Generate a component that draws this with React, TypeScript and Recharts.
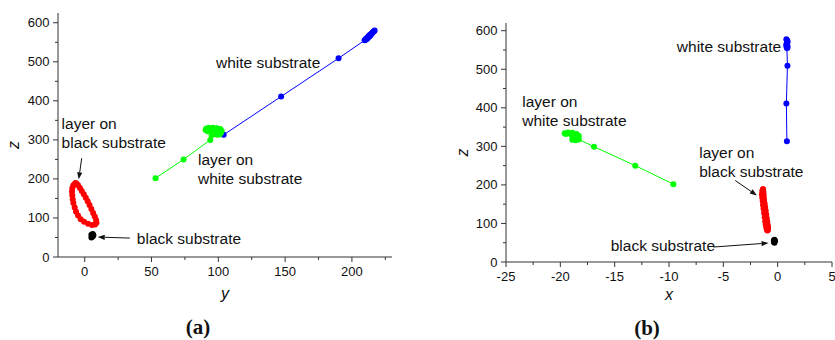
import { Label, ReferenceDot, ReferenceLine, Scatter, ScatterChart, XAxis, YAxis } from "recharts";

// ---- panel (a): y vs z ----
const whiteSubYZ = [
  [104, 313], [147, 411], [190, 509], [209.5, 555], [210.5, 559], [211.5, 562],
  [212.5, 566], [213.5, 569], [214.5, 572], [215.5, 575], [216.5, 578], [217, 580],
  [216, 577], [215, 573], [214, 568], [213, 565], [212, 561], [211, 558], [210, 556]
];
const layerWhiteYZ = [
  [53, 202], [74, 250], [94, 300], [95, 312], [97, 315], [99, 313], [101, 314],
  [102, 318], [102.5, 323], [101.5, 328], [99, 330], [96, 331], [93, 331], [91, 329],
  [90.5, 325], [92, 322], [95, 323], [98, 322], [100, 320], [101, 317]
];
const layerBlackYZ = [
  [-7, 189], [-8.5, 184], [-9.3, 176], [-9.5, 167], [-9.3, 158], [-9, 148], [-8.5, 138],
  [-7.5, 127], [-6.5, 116], [-5, 106], [-3, 97], [-0.5, 90], [2.5, 85], [5.5, 82],
  [7.8, 83], [8.8, 88], [8.5, 95], [7.5, 104], [6.3, 113], [5, 123], [3.6, 133],
  [2.2, 143], [0.8, 152], [-0.7, 161], [-2.2, 169], [-3.6, 177], [-5, 184], [-6.2, 188], [-7, 189]
];
const blackSubYZ = [[5, 50], [5.5, 55], [6, 59], [6.5, 56], [5.5, 52], [6, 53], [5, 57]];

// ---- panel (b): x vs z ----
const whiteSubXZ = [
  [0.85, 313], [0.8, 411], [0.9, 509], [0.85, 555], [0.9, 560], [0.8, 565], [0.9, 570],
  [0.85, 575], [0.8, 578], [0.9, 573], [0.85, 567], [0.8, 560], [0.9, 556]
];
const layerWhiteXZ = [
  [-9.6, 202], [-13.1, 250], [-16.9, 299], [-18.3, 318], [-18.6, 316], [-18.9, 317],
  [-18.4, 322], [-18.3, 327], [-18.5, 332], [-18.9, 335], [-19.3, 336], [-19.6, 334],
  [-19.5, 332], [-19.1, 333], [-18.8, 330], [-18.9, 325], [-18.6, 321]
];
const layerBlackXZ = [
  [-1.35, 189], [-1.42, 184], [-1.45, 176], [-1.42, 167], [-1.38, 158], [-1.35, 148],
  [-1.3, 138], [-1.25, 127], [-1.2, 116], [-1.15, 106], [-1.1, 97], [-1.05, 90],
  [-1.0, 85], [-0.95, 82], [-0.9, 83], [-0.88, 88], [-0.9, 95], [-0.95, 104], [-1.0, 113],
  [-1.05, 123], [-1.1, 133], [-1.15, 143], [-1.2, 152], [-1.25, 161], [-1.28, 169],
  [-1.3, 177], [-1.32, 184], [-1.35, 189]
];
const blackSubXZ = [[-0.35, 52], [-0.3, 58], [-0.25, 55], [-0.3, 50], [-0.35, 56], [-0.28, 53]];

// ticks
const leftXTicks = [0, 25, 50, 75, 100, 125, 150, 175, 200, 225];
const rightXTicks = [-25, -22.5, -20, -17.5, -15, -12.5, -10, -7.5, -5, -2.5, 0, 2.5, 5];
const zTicks = [0, 50, 100, 150, 200, 250, 300, 350, 400, 450, 500, 550, 600];

const FONT = "'Liberation Sans', Arial, sans-serif";
const INK = "#111";

const toPts = (arr) => arr.map(([x, z]) => ({ x, z }));

const dot = (color) => (p) => <circle cx={p.cx} cy={p.cy} r={3} fill={color} />;

const makeXTick = (step) => ({ x, y, payload }) => {
  const major = Math.abs(payload.value / step - Math.round(payload.value / step)) < 1e-6;
  return (
    <g>
      <line x1={x} y1={y} x2={x} y2={y + (major ? 5 : 3)} stroke="#333" />
      {major && (
        <text x={x} y={y + 14.5} textAnchor="middle" dominantBaseline="central"
          fontFamily={FONT} fontSize={13} fill={INK}>
          {payload.value}
        </text>
      )}
    </g>
  );
};

const YTick = ({ x, y, payload }) => {
  const major = payload.value % 100 === 0;
  return (
    <g>
      <line x1={x} y1={y} x2={x - (major ? 5 : 3)} y2={y} stroke="#333" />
      {major && (
        <text x={x - 8.5} y={y} textAnchor="end" dominantBaseline="central"
          fontFamily={FONT} fontSize={13} fill={INK}>
          {payload.value}
        </text>
      )}
    </g>
  );
};

const xTitle = (title, panel, titleDy, panelDx, panelDy) => (props) => {
  const vb = props.viewBox || {};
  const cx = vb.x + vb.width / 2;
  return (
    <g>
      <text x={cx} y={vb.y + titleDy} textAnchor="middle" fontFamily={FONT}
        fontStyle="italic" fontSize={16} fill={INK}>{title}</text>
      <text x={cx + panelDx} y={vb.y + panelDy} textAnchor="middle"
        fontFamily="'Liberation Serif', 'DejaVu Serif', serif" fontWeight="bold"
        fontSize={21} fill={INK}>{panel}</text>
    </g>
  );
};

const zTitle = (dx) => (props) => {
  const vb = props.viewBox || {};
  const tx = vb.x + dx;
  const ty = vb.y + vb.height / 2 + 10;
  return (
    <text x={tx} y={ty} transform={`rotate(-90 ${tx} ${ty})`} textAnchor="middle"
      dominantBaseline="central" fontFamily={FONT} fontStyle="italic" fontSize={16} fill={INK}>
      z
    </text>
  );
};

const note = (lines) => (p) => (
  <text x={p.cx} y={p.cy} fontFamily={FONT} fontSize={15.5} fill={INK}>
    {lines.map((l, i) => (
      <tspan key={i} x={p.cx} dy={i === 0 ? 5 : 19}>{l}</tspan>
    ))}
  </text>
);

const Arrow = (p) => {
  const { x1, y1, x2, y2 } = p;
  const a = Math.atan2(y2 - y1, x2 - x1);
  const L = 7, W = 2.6;
  const bx = x2 - L * Math.cos(a), by = y2 - L * Math.sin(a);
  const px = -Math.sin(a) * W, py = Math.cos(a) * W;
  return (
    <g>
      <line x1={x1} y1={y1} x2={bx} y2={by} stroke={INK} strokeWidth={1} />
      <polygon points={`${x2},${y2} ${bx + px},${by + py} ${bx - px},${by - py}`} fill={INK} />
    </g>
  );
};

const leftNotes = [
  { x: 98.3, z: 498, lines: ["white substrate"] },
  { x: -17.3, z: 340, lines: ["layer on", "black substrate"] },
  { x: 84.8, z: 248, lines: ["layer on", "white substrate"] },
  { x: 39, z: 46, lines: ["black substrate"] }
];
const leftArrows = [
  [[33.75, 48.5], [9.75, 51]],
  [[-2.25, 253], [-4.5, 199]]
];
const rightNotes = [
  { x: -9.28, z: 559, lines: ["white substrate"] },
  { x: -23.5, z: 416, lines: ["layer on", "white substrate"] },
  { x: -7.22, z: 284, lines: ["layer on", "black substrate"] },
  { x: -15.36, z: 41, lines: ["black substrate"] }
];
const rightArrows = [
  [[-5.91, 38.8], [-0.84, 49.2]],
  [[-3.91, 211.5], [-1.91, 172.7]]
];

const Panel = ({ width, margin, yWidth, xHeight, xDomain, zDomain, xTicks, xStep,
  series, notes, arrows, title, panel, titleDy, panelDx, panelDy, zDx }) => (
  <ScatterChart width={width} height={340} margin={margin} style={{ overflow: "visible" }}>
    <XAxis type="number" dataKey="x" domain={xDomain} ticks={xTicks} interval={0}
      allowDataOverflow tickSize={0} tickMargin={0} tickLine={false}
      tick={makeXTick(xStep)} height={xHeight} axisLine={{ stroke: "#333" }}>
      <Label content={xTitle(title, panel, titleDy, panelDx, panelDy)} />
    </XAxis>
    <YAxis type="number" dataKey="z" domain={zDomain} ticks={zTicks} interval={0}
      allowDataOverflow tickSize={0} tickMargin={0} tickLine={false}
      tick={YTick} width={yWidth} axisLine={{ stroke: "#333" }}>
      <Label content={zTitle(zDx)} />
    </YAxis>
    {series.map((s, i) => (
      <Scatter key={i} data={toPts(s.data)} fill={s.color} shape={dot(s.color)}
        line={s.line ? { stroke: s.color, strokeWidth: 1 } : false}
        isAnimationActive={false} />
    ))}
    {arrows.map(([a, b], i) => (
      <ReferenceLine key={"a" + i} segment={[{ x: a[0], y: a[1] }, { x: b[0], y: b[1] }]}
        shape={Arrow} ifOverflow="visible" />
    ))}
    {notes.map((n, i) => (
      <ReferenceDot key={"n" + i} x={n.x} y={n.z} r={0} shape={note(n.lines)} ifOverflow="visible" />
    ))}
  </ScatterChart>
);

export default function App() {
  return (
    <div style={{ position: "absolute", left: 0, top: 0, width: 835, height: 340, background: "#fff" }}>
      <div style={{ position: "absolute", left: 0, top: 0 }}>
        <Panel width={420} margin={{ top: 13, right: 28, bottom: 0, left: 0 }}
          yWidth={58} xHeight={83} xDomain={[-20, 230]} zDomain={[0, 625]}
          xTicks={leftXTicks} xStep={50}
          series={[
            { data: whiteSubYZ, color: "#0000ff", line: true },
            { data: layerWhiteYZ, color: "#00ff00", line: true },
            { data: layerBlackYZ, color: "#ff0000", line: true },
            { data: blackSubYZ, color: "#000000", line: false }
          ]}
          notes={leftNotes} arrows={leftArrows}
          title="y" panel="(a)" titleDy={42} panelDx={-27} panelDy={77} zDx={13} />
      </div>
      <div style={{ position: "absolute", left: 420, top: 0 }}>
        <Panel width={415} margin={{ top: 23, right: 3, bottom: 0, left: 0 }}
          yWidth={86} xHeight={78} xDomain={[-25, 5]} zDomain={[0, 620]}
          xTicks={rightXTicks} xStep={5}
          series={[
            { data: whiteSubXZ, color: "#0000ff", line: true },
            { data: layerWhiteXZ, color: "#00ff00", line: true },
            { data: layerBlackXZ, color: "#ff0000", line: true },
            { data: blackSubXZ, color: "#000000", line: false }
          ]}
          notes={rightNotes} arrows={rightArrows}
          title="x" panel="(b)" titleDy={38} panelDx={-22} panelDy={73} zDx={42} />
      </div>
    </div>
  );
}
